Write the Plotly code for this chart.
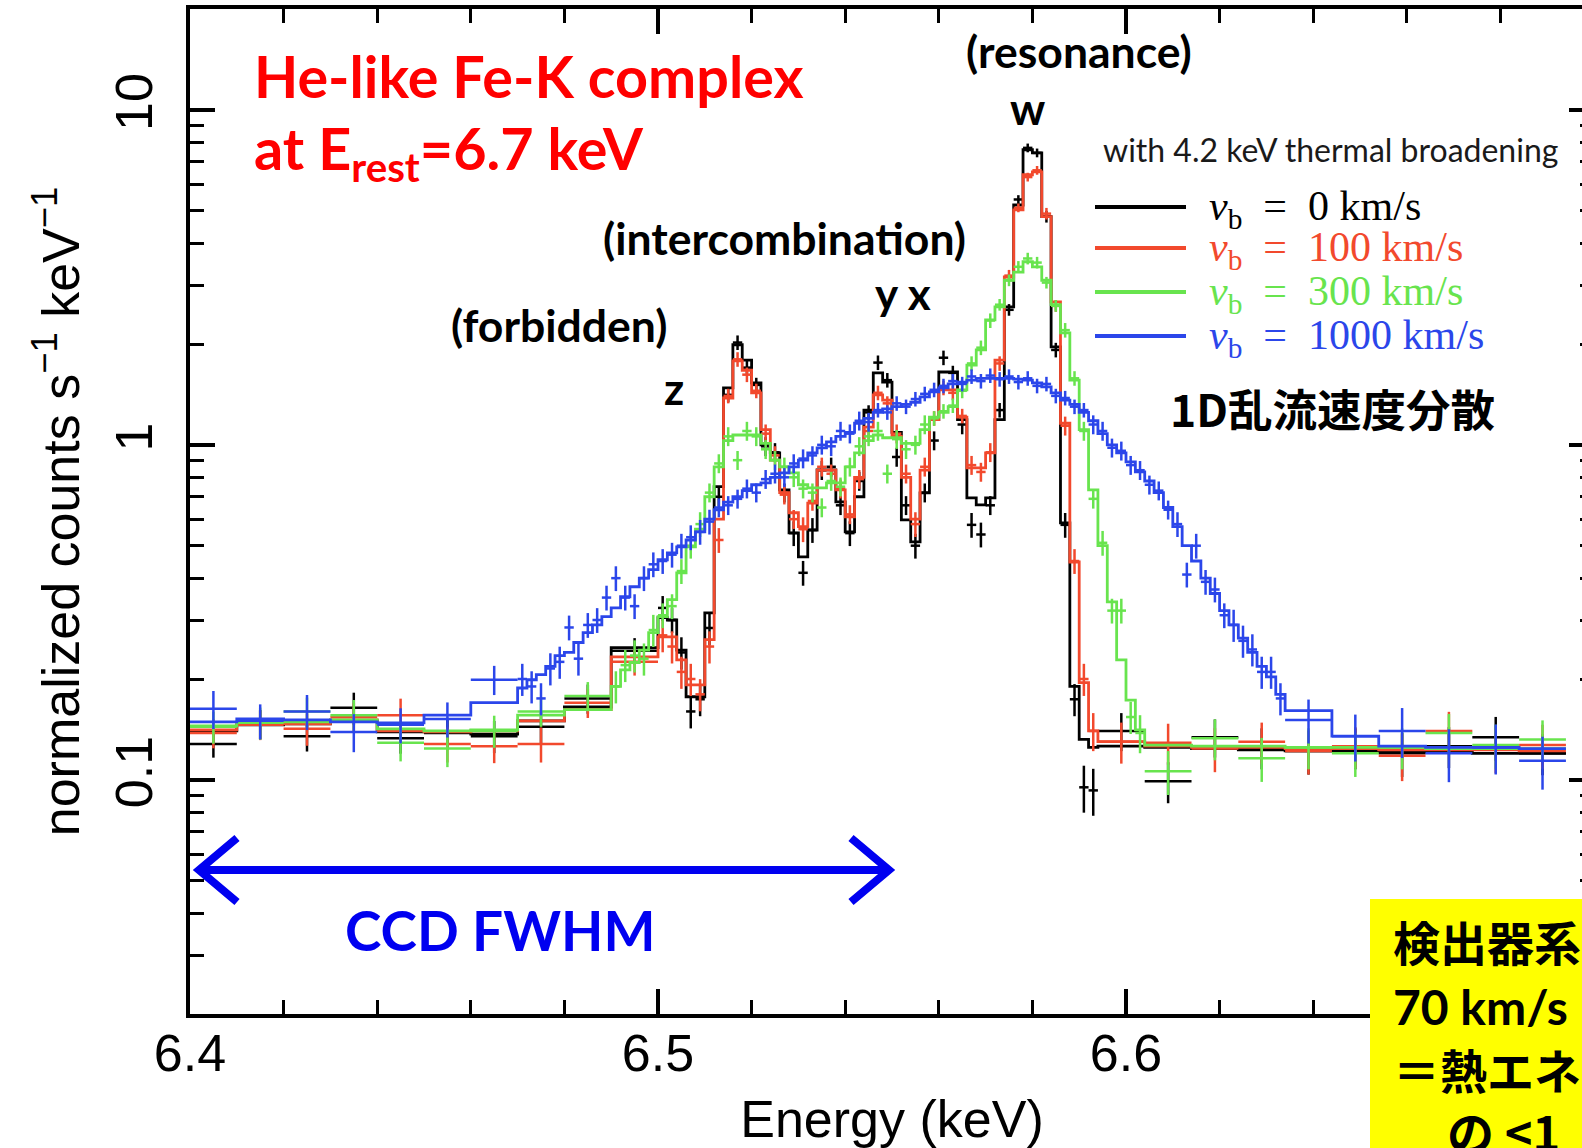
import math
import plotly.graph_objects as go

# ---------------- bin edges (keV) ----------------
EDGES_LEFT = [6.40, 6.41, 6.42, 6.43, 6.44, 6.45, 6.46, 6.47, 6.48, 6.49, 6.50]
EDGES_FINE = [
    6.470, 6.472, 6.474, 6.476, 6.478, 6.480, 6.482, 6.484, 6.486, 6.488,
    6.490, 6.492, 6.494, 6.496, 6.498, 6.500, 6.502, 6.504, 6.506, 6.508,
    6.510, 6.512, 6.514, 6.516, 6.518, 6.520, 6.522, 6.524, 6.526, 6.528,
    6.530, 6.532, 6.534, 6.536, 6.538, 6.540, 6.542, 6.544, 6.546, 6.548,
    6.550, 6.552, 6.554, 6.556, 6.558, 6.560, 6.562, 6.564, 6.566, 6.568,
    6.570, 6.572, 6.574, 6.576, 6.578, 6.580, 6.582, 6.584, 6.586, 6.588,
    6.590, 6.592, 6.594, 6.596, 6.598, 6.600, 6.602, 6.604, 6.606, 6.608,
    6.610, 6.612, 6.614, 6.616, 6.618, 6.620, 6.622, 6.624, 6.626, 6.628,
    6.630, 6.632, 6.634]
EDGES_RIGHT = [6.594, 6.604, 6.614, 6.624, 6.634, 6.644, 6.654, 6.664, 6.674, 6.684, 6.694]

# ---------------- v_b = 0 km/s (black) ----------------
BK_LEFT_END, BK_FINE_END = 6.50, 6.594
bk_model_left = [0.140, 0.146, 0.147, 0.150, 0.139, 0.139, 0.137, 0.150, 0.165, 0.248]
bk_data_left = [0.128, 0.147, 0.135, 0.164, 0.133, 0.138, 0.135, 0.144, 0.175, 0.243]
bk_err_left = [0.09, 0.10, 0.10, 0.11, 0.10, 0.11, 0.11, 0.11, 0.10, 0.09]
bk_model_fine = [0.305, 0.30, 0.244, 0.177, 0.177, 0.315, 0.75, 1.48, 1.99, 1.79,
                 1.53, 1.0, 0.946, 0.734, 0.546, 0.463, 0.557, 0.842, 0.842, 0.676,
                 0.55, 0.70, 1.27, 1.64, 1.54, 1.09, 0.597, 0.513, 0.719, 1.19,
                 1.65, 1.65, 1.19, 0.695, 0.662, 0.695, 1.19, 2.58, 5.2, 7.6,
                 7.44, 4.8, 1.96, 0.585, 0.19, 0.132, 0.125]
bk_data_fine = [0.326, 0.30, 0.24, 0.16, 0.174, 0.284, 0.70, 1.41, 2.02, 1.70,
                1.51, 0.99, 0.95, 0.72, 0.545, 0.415, 0.557, 0.84, 0.86, 0.66,
                0.545, 0.78, 1.25, 1.76, 1.56, 0.92, 0.66, 0.50, 0.72, 1.03,
                1.82, 1.64, 1.15, 0.577, 0.54, 0.66, 1.27, 2.53, 5.4, 7.7,
                7.44, 4.8, 1.92, 0.577, 0.174, 0.095, 0.093]
bk_err_fine = [0.085, 0.085, 0.11, 0.11, 0.11, 0.11, 0.065, 0.05, 0.05, 0.05,
               0.05, 0.065, 0.065, 0.065, 0.085, 0.085, 0.085, 0.065, 0.065, 0.065,
               0.085, 0.065, 0.05, 0.05, 0.05, 0.065, 0.065, 0.085, 0.065, 0.065,
               0.05, 0.05, 0.065, 0.085, 0.085, 0.065, 0.05, 0.04, 0.03, 0.03,
               0.03, 0.04, 0.05, 0.085, 0.11, 0.16, 0.16]
bk_model_right = [0.126, 0.125, 0.124, 0.123, 0.122, 0.122, 0.121, 0.121, 0.120, 0.120]
bk_data_right = [0.140, 0.099, 0.134, 0.125, 0.122, 0.125, 0.120, 0.126, 0.134, 0.120]
bk_err_right = [0.13, 0.14, 0.13, 0.14, 0.15, 0.14, 0.15, 0.14, 0.15, 0.14]

# ---------------- v_b = 100 km/s (red) ----------------
RD_LEFT_END, RD_FINE_END = 6.50, 6.594
rd_model_left = [0.141, 0.147, 0.147, 0.151, 0.140, 0.139, 0.140, 0.150, 0.162, 0.233]
rd_data_left = [0.138, 0.146, 0.142, 0.154, 0.156, 0.128, 0.126, 0.128, 0.170, 0.225]
rd_err_left = [0.10, 0.10, 0.11, 0.10, 0.12, 0.12, 0.11, 0.12, 0.10, 0.09]
rd_model_fine = [0.267, 0.267, 0.228, 0.192, 0.192, 0.262, 0.60, 1.38, 1.78, 1.67,
                 1.43, 1.11, 0.90, 0.72, 0.627, 0.57, 0.67, 0.84, 0.84, 0.734,
                 0.61, 0.80, 1.13, 1.41, 1.36, 1.06, 0.80, 0.60, 0.84, 1.19,
                 1.46, 1.46, 1.21, 0.854, 0.854, 0.946, 1.79, 3.17, 5.03, 6.4,
                 6.53, 4.8, 2.67, 1.16, 0.447, 0.195, 0.14]
rd_data_fine = [0.27, 0.25, 0.21, 0.20, 0.18, 0.25, 0.52, 1.40, 1.80, 1.62,
                1.45, 1.08, 0.93, 0.71, 0.60, 0.56, 0.68, 0.86, 0.82, 0.74,
                0.62, 0.79, 1.10, 1.43, 1.33, 1.08, 0.82, 0.58, 0.86, 1.20,
                1.48, 1.43, 1.22, 0.87, 0.83, 0.95, 1.75, 3.2, 5.1, 6.3,
                6.6, 4.9, 2.6, 1.14, 0.45, 0.20, 0.14]
rd_err_fine = [0.11, 0.11, 0.11, 0.11, 0.11, 0.11, 0.085, 0.05, 0.05, 0.05,
               0.05, 0.065, 0.065, 0.065, 0.065, 0.085, 0.065, 0.065, 0.065, 0.065,
               0.065, 0.065, 0.065, 0.05, 0.05, 0.065, 0.065, 0.085, 0.065, 0.05,
               0.05, 0.05, 0.05, 0.065, 0.065, 0.065, 0.05, 0.04, 0.03, 0.03,
               0.03, 0.04, 0.04, 0.065, 0.085, 0.11, 0.13]
rd_model_right = [0.130, 0.126, 0.125, 0.125, 0.124, 0.124, 0.123, 0.123, 0.123, 0.122]
rd_data_right = [0.130, 0.129, 0.124, 0.130, 0.122, 0.126, 0.118, 0.140, 0.123, 0.127]
rd_err_right = [0.14, 0.14, 0.15, 0.14, 0.15, 0.14, 0.16, 0.14, 0.15, 0.15]

# ---------------- v_b = 300 km/s (green) ----------------
GR_LEFT_END, GR_FINE_END = 6.49, 6.604
gr_model_left = [0.145, 0.149, 0.149, 0.151, 0.142, 0.140, 0.141, 0.156, 0.162]
gr_data_left = [0.144, 0.148, 0.160, 0.156, 0.129, 0.124, 0.140, 0.160, 0.178]
gr_err_left = [0.11, 0.11, 0.10, 0.11, 0.12, 0.12, 0.11, 0.10, 0.10]
gr_model_fine = [0.19, 0.213, 0.224, 0.244, 0.275, 0.307, 0.345, 0.415, 0.496, 0.56,
                 0.70, 0.86, 1.03, 1.07, 1.07, 1.07, 1.01, 0.90, 0.86, 0.825,
                 0.76, 0.744, 0.744, 0.77, 0.77, 0.86, 0.946, 1.03, 1.07, 1.05,
                 1.05, 1.01, 1.01, 1.11, 1.21, 1.25, 1.30, 1.46, 1.73, 1.92,
                 2.36, 2.58, 3.1, 3.28, 3.52, 3.4, 3.1, 2.62, 2.16, 1.56,
                 1.11, 0.734, 0.50, 0.34, 0.228, 0.173, 0.141]
gr_data_fine = [0.19, 0.22, 0.235, 0.23, 0.28, 0.31, 0.33, 0.42, 0.50, 0.58,
                0.72, 0.88, 1.06, 0.90, 1.10, 1.06, 0.97, 0.90, 0.86, 0.80,
                0.74, 0.72, 0.65, 0.78, 0.75, 0.86, 0.99, 1.06, 1.10, 0.82,
                1.04, 0.97, 1.00, 1.15, 1.20, 1.26, 1.31, 1.45, 1.75, 1.95,
                2.35, 2.62, 3.1, 3.4, 3.6, 3.5, 3.05, 2.6, 2.2, 1.58,
                1.10, 0.69, 0.51, 0.32, 0.32, 0.154, 0.138]
gr_err_fine = [0.11, 0.11, 0.11, 0.11, 0.11, 0.085, 0.085, 0.085, 0.085, 0.085,
               0.065, 0.065, 0.065, 0.065, 0.065, 0.065, 0.065, 0.065, 0.065, 0.065,
               0.065, 0.065, 0.065, 0.065, 0.065, 0.065, 0.065, 0.065, 0.065, 0.065,
               0.065, 0.065, 0.065, 0.065, 0.05, 0.05, 0.05, 0.05, 0.05, 0.05,
               0.05, 0.04, 0.04, 0.04, 0.04, 0.04, 0.04, 0.04, 0.05, 0.05,
               0.065, 0.065, 0.085, 0.085, 0.085, 0.11, 0.13]
gr_model_right = [0.127, 0.126, 0.126, 0.125, 0.125, 0.125, 0.124, 0.124, 0.124]
gr_data_right = [0.106, 0.133, 0.116, 0.125, 0.120, 0.125, 0.138, 0.127, 0.132]
gr_err_right = [0.15, 0.14, 0.15, 0.14, 0.15, 0.14, 0.14, 0.15, 0.14]

# ---------------- v_b = 1000 km/s (blue) ----------------
BL_LEFT_END, BL_FINE_END = 6.47, 6.634
bl_model_left = [0.149, 0.152, 0.151, 0.149, 0.148, 0.156, 0.170]
bl_data_left = [0.163, 0.150, 0.160, 0.139, 0.146, 0.152, 0.199]
bl_err_left = [0.13, 0.12, 0.12, 0.13, 0.12, 0.12, 0.10]
bl_model_fine = [0.188, 0.199, 0.206, 0.218, 0.235, 0.24, 0.257, 0.275, 0.29, 0.307,
                 0.326, 0.352, 0.377, 0.40, 0.424, 0.454, 0.476, 0.496, 0.52, 0.55,
                 0.60, 0.64, 0.675, 0.70, 0.73, 0.76, 0.77, 0.80, 0.825, 0.86,
                 0.90, 0.946, 0.98, 1.02, 1.06, 1.09, 1.16, 1.20, 1.25, 1.28,
                 1.30, 1.32, 1.34, 1.39, 1.44, 1.48, 1.52, 1.54, 1.56, 1.58,
                 1.58, 1.58, 1.58, 1.57, 1.56, 1.53, 1.49, 1.43, 1.36, 1.32,
                 1.25, 1.18, 1.08, 1.0, 0.946, 0.89, 0.83, 0.78, 0.72, 0.65,
                 0.57, 0.50, 0.45, 0.40, 0.36, 0.32, 0.29, 0.265, 0.24, 0.218,
                 0.203, 0.18]
bl_data_fine = [0.20, 0.19, 0.175, 0.215, 0.225, 0.285, 0.23, 0.29, 0.30, 0.35,
                0.40, 0.35, 0.33, 0.40, 0.44, 0.45, 0.47, 0.50, 0.53, 0.55,
                0.59, 0.65, 0.66, 0.69, 0.74, 0.72, 0.79, 0.82, 0.80, 0.88,
                0.91, 0.93, 1.00, 0.99, 1.10, 1.08, 1.18, 1.17, 1.27, 1.25,
                1.33, 1.30, 1.37, 1.42, 1.46, 1.50, 1.55, 1.52, 1.60, 1.55,
                1.61, 1.57, 1.60, 1.54, 1.58, 1.50, 1.52, 1.40, 1.38, 1.30,
                1.27, 1.15, 1.10, 0.98, 0.96, 0.87, 0.84, 0.76, 0.73, 0.64,
                0.58, 0.41, 0.50, 0.39, 0.37, 0.31, 0.29, 0.26, 0.245, 0.21,
                0.21, 0.175]
bl_err_fine = [0.11, 0.11, 0.11, 0.11, 0.11, 0.085, 0.11, 0.085, 0.085, 0.085,
               0.085, 0.085, 0.085, 0.085, 0.085, 0.085, 0.085, 0.085, 0.085, 0.085,
               0.085, 0.065, 0.065, 0.065, 0.065, 0.065, 0.065, 0.065, 0.065, 0.065,
               0.065, 0.065, 0.065, 0.065, 0.065, 0.065, 0.065, 0.065, 0.05, 0.05,
               0.05, 0.05, 0.05, 0.05, 0.05, 0.05, 0.05, 0.05, 0.05, 0.05,
               0.05, 0.05, 0.05, 0.05, 0.05, 0.05, 0.05, 0.05, 0.05, 0.05,
               0.05, 0.065, 0.065, 0.065, 0.065, 0.065, 0.065, 0.065, 0.065, 0.065,
               0.085, 0.085, 0.085, 0.085, 0.085, 0.085, 0.11, 0.11, 0.11, 0.11,
               0.11, 0.11]
bl_model_right = [0.161, 0.135, 0.126, 0.125, 0.125, 0.124]
bl_data_right = [0.151, 0.135, 0.140, 0.120, 0.125, 0.114]
bl_err_right = [0.15, 0.16, 0.17, 0.18, 0.17, 0.18]

# ---------------- axes / labels ----------------
X_RANGE = [6.4, 6.7]
X_TICKS = [6.4, 6.5, 6.6, 6.7]
X_TICKTEXT = ["6.4", "6.5", "6.6", "6.7"]
X_MINOR = [6.42, 6.44, 6.46, 6.48, 6.52, 6.54, 6.56, 6.58, 6.62, 6.64, 6.66, 6.68]
Y_RANGE = [0.02, 20]
Y_TICKS = [0.1, 1, 10]
Y_TICKTEXT = ["0.1", "1", "10"]
Y_MINOR = [0.02, 0.03, 0.04, 0.05, 0.06, 0.07, 0.08, 0.09,
           0.2, 0.3, 0.4, 0.5, 0.6, 0.7, 0.8, 0.9,
           2, 3, 4, 5, 6, 7, 8, 9, 20]

C_BLACK = "#000000"
C_RED = "#f2492d"
C_GREEN = "#68e44e"
C_BLUE = "#2b46ea"

LEGEND_LABELS = ["0", "100", "300", "1000"]
LEGEND_COLORS = [C_BLACK, C_RED, C_GREEN, C_BLUE]


def build_bins(left_end, fine_end):
    def between(edges, a, b):
        return [e for e in edges if a - 1e-9 <= e <= b + 1e-9]
    segs = [between(EDGES_LEFT, EDGES_LEFT[0], left_end),
            between(EDGES_FINE, left_end, fine_end),
            between(EDGES_RIGHT, fine_end, EDGES_RIGHT[-1])]
    lo, hi = [], []
    for s in segs:
        lo += s[:-1]
        hi += s[1:]
    return lo, hi


def add_series(fig, lo, hi, model, data, rel, color):
    assert len(lo) == len(model) == len(data) == len(rel), (len(lo), len(model), len(data), len(rel))
    xs, ys = [], []
    for a, b, m in zip(lo, hi, model):
        xs += [a, b]
        ys += [m, m]
    fig.add_trace(go.Scatter(x=xs, y=ys, mode="lines",
                             line=dict(color=color, width=2.8),
                             hoverinfo="skip", showlegend=False))
    xc = [(a + b) / 2 for a, b in zip(lo, hi)]
    hw = [(b - a) / 2 for a, b in zip(lo, hi)]
    ey = [d * r for d, r in zip(data, rel)]
    fig.add_trace(go.Scatter(
        x=xc, y=data, mode="markers",
        marker=dict(size=2, color=color),
        error_x=dict(type="data", array=hw, color=color, thickness=2.5, width=0),
        error_y=dict(type="data", array=ey, color=color, thickness=2.5, width=0),
        showlegend=False))


fig = go.Figure()

series = [
    (BK_LEFT_END, BK_FINE_END, bk_model_left + bk_model_fine + bk_model_right,
     bk_data_left + bk_data_fine + bk_data_right, bk_err_left + bk_err_fine + bk_err_right, C_BLACK),
    (RD_LEFT_END, RD_FINE_END, rd_model_left + rd_model_fine + rd_model_right,
     rd_data_left + rd_data_fine + rd_data_right, rd_err_left + rd_err_fine + rd_err_right, C_RED),
    (GR_LEFT_END, GR_FINE_END, gr_model_left + gr_model_fine + gr_model_right,
     gr_data_left + gr_data_fine + gr_data_right, gr_err_left + gr_err_fine + gr_err_right, C_GREEN),
    (BL_LEFT_END, BL_FINE_END, bl_model_left + bl_model_fine + bl_model_right,
     bl_data_left + bl_data_fine + bl_data_right, bl_err_left + bl_err_fine + bl_err_right, C_BLUE),
]
for le, fe, mod, dat, err, col in series:
    lo, hi = build_bins(le, fe)
    add_series(fig, lo, hi, mod, dat, err, col)

# ---------------- layout geometry (pixels) ----------------
W, H = 1620, 1148
L, R, T, B = 190, 1594, 9, 1014


def px(x):
    return (x - L) / (R - L)


def py(y):
    return (B - y) / (B - T)


annotations = []


def ann(text, x, y, size, color="black", family="Lato", xanchor="center", yanchor="middle"):
    annotations.append(dict(text=text, x=px(x), y=py(y), xref="paper", yref="paper",
                            xanchor=xanchor, yanchor=yanchor, showarrow=False,
                            font=dict(family=family, size=size, color=color)))


LBL = "Lato"
CJK = "Noto Sans CJK JP"
ann("<b>He-like Fe-K complex</b>", 252, 75, 57.5, "#ff0000", LBL, xanchor="left")
ann("<b>at E<sub>rest</sub>=6.7 keV</b>", 252, 152, 57.5, "#ff0000", LBL, xanchor="left")
ann("<b>(resonance)</b>", 1079, 50, 44.5)
ann("<b>w</b>", 1027, 108, 44)
ann("<b>(intercombination)</b>", 784, 238, 44.5)
ann("<b>y x</b>", 903, 293, 44)
ann("<b>(forbidden)</b>", 559, 324, 44.5)
ann("<b>z</b>", 674, 388, 44)
ann("<b>1D乱流速度分散</b>", 1332, 407, 44.5, family=CJK)
ann("with 4.2 keV thermal broadening", 1101, 149, 32, "#1a1a1a", LBL, xanchor="left")
ann("<b>CCD FWHM</b>", 500, 930, 55, "#0000f0", LBL)

legend_y = [207, 248, 292, 336]
shapes = []
for lab, col, yy in zip(LEGEND_LABELS, LEGEND_COLORS, legend_y):
    shapes.append(dict(type="line", xref="paper", yref="paper", x0=px(1095), x1=px(1186),
                       y0=py(yy), y1=py(yy), line=dict(color=col, width=4)))
    ann("<i>v</i><sub>b</sub>\u00a0\u00a0=\u00a0\u00a0" + lab + " km/s", 1207, yy + 2, 42, col,
        "Liberation Serif", xanchor="left")

# CCD FWHM double arrow
ARW = "#0000f0"
shapes.append(dict(type="line", xref="paper", yref="paper", x0=px(201), x1=px(887),
                   y0=py(870), y1=py(870), line=dict(color=ARW, width=8)))
for tip, back in [(199, 237), (889, 851)]:
    path = "M {:.5f},{:.5f} L {:.5f},{:.5f} L {:.5f},{:.5f}".format(
        px(back), py(838), px(tip), py(870), px(back), py(902))
    shapes.append(dict(type="path", xref="paper", yref="paper", path=path,
                       line=dict(color=ARW, width=8)))

# yellow note box
shapes.append(dict(type="rect", xref="paper", yref="paper", layer="above",
                   x0=px(1370), x1=px(1700), y0=py(1260), y1=py(899),
                   fillcolor="#ffff00", line=dict(width=0)))
ann("<b>検出器系</b>", 1391, 940, 47, family=CJK, xanchor="left")
ann("<b>70 km/s</b>", 1391, 1006, 48, family=LBL, xanchor="left")
ann("<b>＝熱エネ</b>", 1391, 1068, 47, family=CJK, xanchor="left")
ann("<b>の &lt;1</b>", 1445, 1130, 47, family=CJK, xanchor="left")

fig.update_layout(
    width=W, height=H,
    margin=dict(l=L, r=W - R, t=T, b=H - B),
    paper_bgcolor="white", plot_bgcolor="white",
    showlegend=False,
    font=dict(family="Liberation Sans", color="black"),
    annotations=annotations, shapes=shapes,
    xaxis=dict(range=X_RANGE, tickmode="array", tickvals=X_TICKS, ticktext=X_TICKTEXT,
               ticks="inside", ticklen=25, tickwidth=3.5, tickcolor="black",
               showline=True, linewidth=4, linecolor="black", mirror="allticks",
               showgrid=False, zeroline=False, automargin=False,
               ticklabelstandoff=-9,
               minor=dict(tickmode="array", tickvals=X_MINOR, ticks="inside",
                          ticklen=14, tickwidth=3, tickcolor="black", showgrid=False),
               tickfont=dict(family="Liberation Sans", size=52),
               title=dict(text="Energy (keV)", font=dict(family="Liberation Sans", size=52),
                          standoff=20)),
    yaxis=dict(type="log", range=[math.log10(Y_RANGE[0]), math.log10(Y_RANGE[1])],
               tickmode="array", tickvals=Y_TICKS, ticktext=Y_TICKTEXT, tickangle=-90,
               ticks="inside", ticklen=25, tickwidth=3.5, tickcolor="black",
               showline=True, linewidth=4, linecolor="black", mirror="allticks",
               showgrid=False, zeroline=False, automargin=False,
               ticklabelstandoff=13,
               minor=dict(tickmode="array", tickvals=Y_MINOR, ticks="inside",
                          ticklen=14, tickwidth=3, tickcolor="black", showgrid=False),
               tickfont=dict(family="Liberation Sans", size=52),
               title=dict(text="normalized counts s<sup>\u22121</sup> keV<sup>\u22121</sup>",
                          font=dict(family="Liberation Sans", size=52), standoff=10)),
)

fig.write_html("out.html", post_script=(
    "document.body.style.margin='0';"
    "document.body.style.overflow='hidden';"
    "document.documentElement.style.overflow='hidden';"))
